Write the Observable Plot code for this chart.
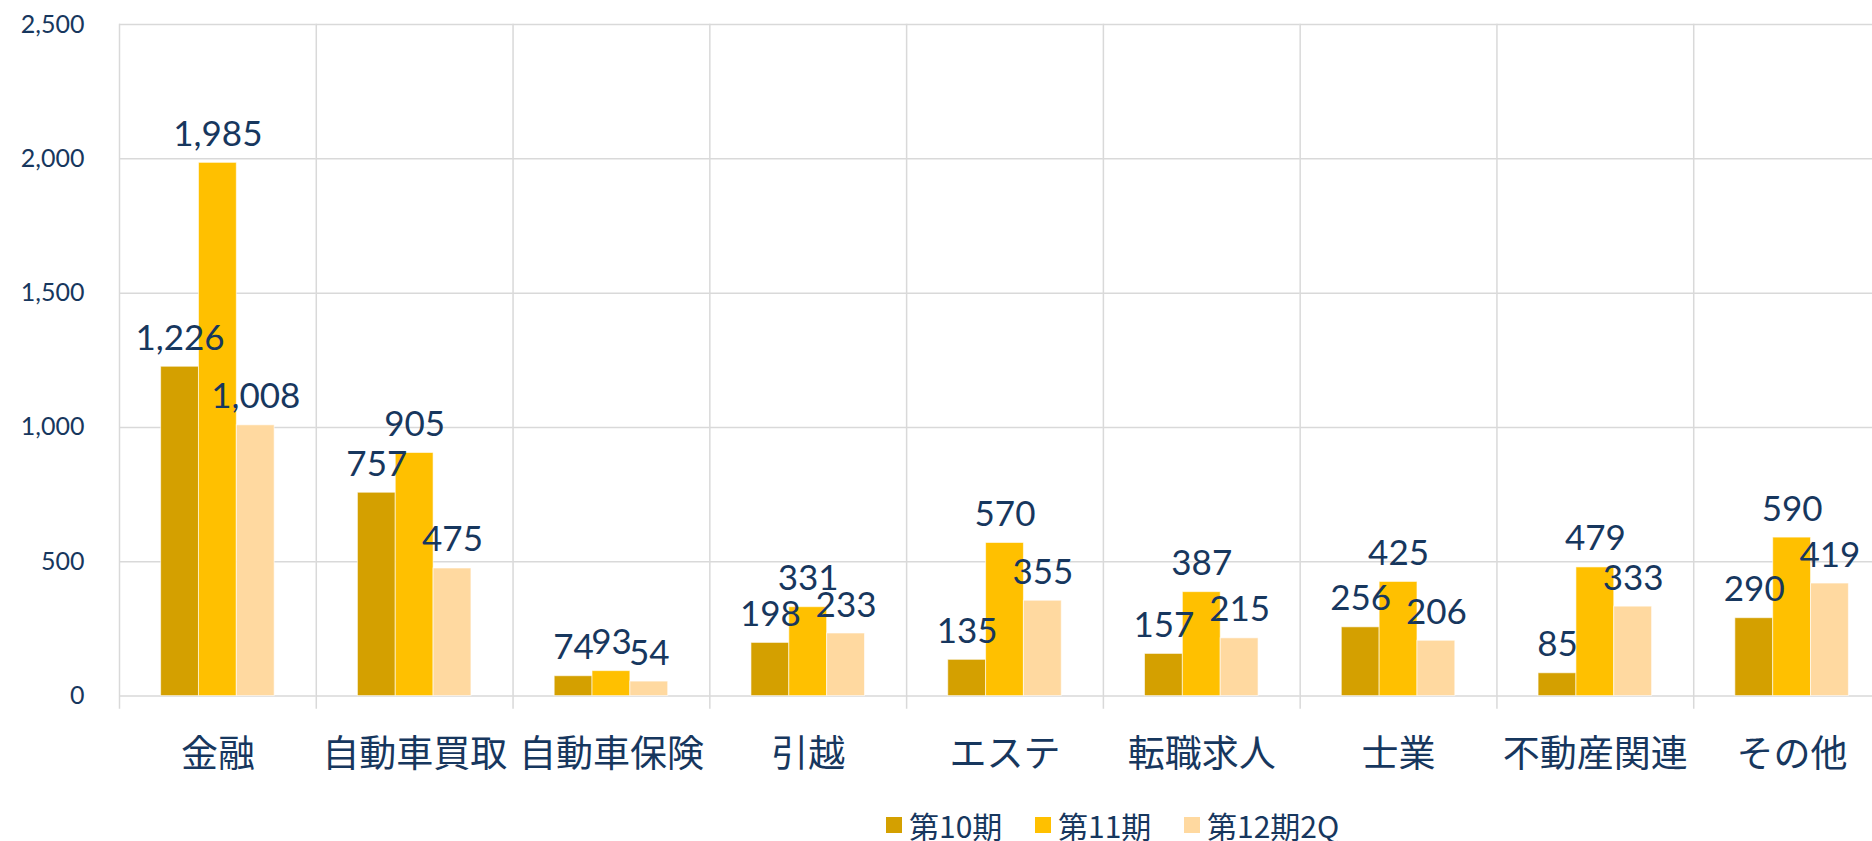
<!DOCTYPE html>
<html>
<head>
<meta charset="utf-8">
<script src="https://cdn.jsdelivr.net/npm/d3@7"></script>
<script src="https://cdn.jsdelivr.net/npm/@observablehq/plot@0.6"></script>
<style>
  html, body { margin: 0; padding: 0; background: #fff; overflow: hidden; width: 1872px; height: 841px; }
  #chart { position: absolute; left: 0; top: 0; }
  #chart svg { max-width: none !important; }
  #legend { position: absolute; top: 810px; left: 886px; display: flex; align-items: center; height: 30px; line-height: 30px;
    font-family: "Noto Sans CJK JP", sans-serif; font-size: 30px; color: #17375E; white-space: nowrap; }
  #legend .item { display: flex; align-items: center; min-width: 149px; }
  #legend .sw { width: 16px; height: 16px; margin-right: 7px; }
</style>
</head>
<body>
<div id="chart"></div>
<div id="legend"></div>
<script>
const categories = ["金融", "自動車買取", "自動車保険", "引越", "エステ", "転職求人", "士業", "不動産関連", "その他"];
const seriesNames = ["第10期", "第11期", "第12期2Q"];
const seriesColors = ["#D4A000", "#FFC000", "#FFD9A0"];
const period10 = [1226, 757, 74, 198, 135, 157, 256, 85, 290];
const period11 = [1985, 905, 93, 331, 570, 387, 425, 479, 590];
const period12q2 = [1008, 475, 54, 233, 355, 215, 206, 333, 419];
const yTicks = [0, 500, 1000, 1500, 2000, 2500];

const seriesValues = [period10, period11, period12q2];
const rows = [];
categories.forEach((c, i) => {
  seriesNames.forEach((s, j) => rows.push({cat: c, series: s, value: seriesValues[j][i]}));
});

const fmt = d3.format(",");
const textColor = "#17375E";
const chart = Plot.plot({
  width: 1890,
  height: 790,
  marginLeft: 119,
  marginRight: 0,
  marginTop: 24,
  marginBottom: 94.4,
  style: {fontFamily: "Lato, 'Noto Sans CJK JP', sans-serif", color: textColor, background: "white", overflow: "visible", maxWidth: "none"},
  fx: {domain: categories, padding: 0, round: false, axis: null, label: null},
  x: {domain: seriesNames, paddingInner: 0, paddingOuter: 1.1, round: false, axis: null, label: null},
  y: {domain: [0, 2500], axis: null, label: null},
  color: {domain: seriesNames, range: seriesColors},
  marks: [
    Plot.ruleY(yTicks, {stroke: "#D9D9D9", strokeWidth: 1.5}),
    Plot.frame({anchor: "left", stroke: "#D9D9D9", strokeWidth: 1.5, insetBottom: -12}),
    Plot.barY(rows, {fx: "cat", x: "series", y: "value", fill: "series", stroke: "white", strokeWidth: 1, strokeOpacity: 0.6}),
    Plot.text(rows, {fx: "cat", x: "series", y: "value", text: d => fmt(d.value),
      lineAnchor: "bottom", dy: -17, fontSize: 35, fill: textColor}),
    Plot.axisY({ticks: yTicks, tickFormat: d => fmt(d), tickSize: 0, tickPadding: 35, fontSize: 25, fill: textColor, label: null}),
    Plot.axisFx({anchor: "bottom", tickSize: 0, tickPadding: 45, fontSize: 37, fill: textColor, label: null,
      fontFamily: "'Noto Sans CJK JP', sans-serif"})
  ]
});
document.getElementById("chart").appendChild(chart);

const legend = document.getElementById("legend");
seriesNames.forEach((s, i) => {
  const item = document.createElement("div");
  item.className = "item";
  const sw = document.createElement("span");
  sw.className = "sw";
  sw.style.background = seriesColors[i];
  const t = document.createElement("span");
  t.textContent = s;
  item.appendChild(sw);
  item.appendChild(t);
  legend.appendChild(item);
});
</script>
</body>
</html>
